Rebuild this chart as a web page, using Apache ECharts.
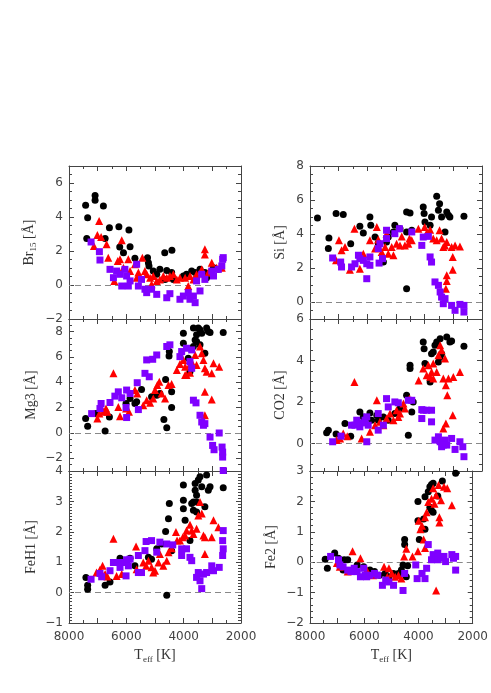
<!DOCTYPE html>
<html><head><meta charset="utf-8">
<script src="https://cdn.jsdelivr.net/npm/echarts@6/dist/echarts.min.js"></script>
<style>html,body{margin:0;padding:0;background:#fff}#c{width:491px;height:693px}</style>
</head><body><div id="c"></div>
<script>
// ---------- data ----------
const xTickLabels = [8000, 6000, 4000, 2000];
const panelNames = ['Br15', 'Si', 'Mg3', 'CO2', 'FeH1', 'Fe2'];
const yRanges = [[-2, 7], [-1, 8], [-3, 9], [-1.33, 6], [-1, 4], [-2, 3]];
const yMajorTicks = [[-2,0,2,4,6], [0,2,4,6,8], [-2,0,2,4,6,8], [0,2,4,6], [-1,0,1,2,3,4], [-2,-1,0,1,2,3]];
const yMinorStep = [0.5, 0.5, 0.5, 0.5, 0.1, 0.2];

const br15Black = [[7420,4.69],[7350,3.96],[7380,2.73],[7090,4.98],[7090,5.27],[6800,4.65],[6740,2.73],[6590,3.37],[6260,3.43],[6230,2.24],[6100,1.9],[5910,3.24],[5870,2.25],[5700,1.57],[5260,1.61],[5230,1.31],[5210,1.12],[5060,0.82],[4940,0.63],[4830,0.92],[4590,0.86],[4650,0.33],[4420,0.73],[4360,0.33],[4660,1.9],[4410,2.04],[4010,0.53],[3900,0.63],[3720,0.82],[3600,0.73],[3430,0.92],[3260,0.73],[3200,0.43],[2960,1.02],[2790,0.92]];
const br15Red = [[6950,3.76],[7010,2.94],[6880,2.82],[7130,2.29],[6690,2.39],[6630,1.61],[6160,2.63],[6300,1.41],[6220,1.51],[5930,1.51],[5700,1.22],[5440,1.61],[5580,0.73],[6420,0.24],[5350,0.82],[5290,0.63],[5170,0.43],[5060,0.53],[4940,0.24],[4830,0.33],[4710,0.53],[4590,0.43],[4480,0.53],[4360,0.63],[4240,0.33],[4130,0.43],[3950,0.43],[3840,-0.06],[3780,0.53],[3660,0.33],[3550,0.63],[3370,0.92],[3260,2.1],[3260,1.8],[3140,0.73],[3020,1.31],[2850,1.02],[2670,1.02],[5120,0.04],[5640,0.43],[6100,1.02],[5870,0.82]];
const br15Purple = [[7230,2.53],[6940,1.96],[6920,1.47],[6570,0.92],[6450,0.43],[6340,0.82],[6220,0.63],[6160,-0.06],[6050,0.92],[5990,0.53],[5930,-0.06],[5870,0.24],[5640,1.22],[5580,-0.06],[5470,0.33],[5350,-0.25],[5290,-0.45],[5120,-0.25],[4940,-0.55],[4590,-0.75],[4480,-0.51],[4130,-0.84],[4010,-0.65],[3840,-0.45],[3780,-0.84],[3600,-1.04],[3660,-0.65],[3550,0.24],[3430,-0.35],[3370,0.63],[3260,0.33],[3020,0.82],[2960,0.53],[2790,0.92],[2670,1.12],[2640,1.51],[2620,1.61]];

const siBlack = [[7740,4.94],[7340,3.76],[7360,3.14],[7090,5.2],[6840,5.14],[6580,3.43],[6260,4.45],[6140,4.06],[5910,5.0],[5880,4.51],[5730,3.82],[5620,3.47],[5270,3.82],[5090,4.12],[5040,4.51],[4860,4.31],[4630,5.29],[4510,5.24],[4630,4.12],[4450,4.22],[4630,0.78],[4050,5.59],[4020,5.2],[3990,4.71],[3760,5.0],[3580,6.22],[3520,5.39],[3480,5.78],[3410,5.0],[3230,5.29],[3170,5.1],[3120,5.0],[2630,5.04],[3290,4.12],[5440,2.35],[5330,3.53],[3810,4.51]];
const siRed = [[6990,3.63],[6900,3.04],[6780,3.24],[7090,2.45],[6610,1.9],[6450,4.31],[6260,1.96],[6140,2.84],[5910,3.63],[5730,3.14],[5670,4.41],[5620,3.67],[5500,2.94],[5380,3.24],[5270,2.84],[5150,3.24],[5090,2.75],[4980,3.43],[4860,3.33],[4800,3.86],[4690,3.33],[4570,3.43],[4450,3.63],[4530,3.73],[4220,4.31],[4000,4.41],[3930,4.06],[3810,4.25],[3700,3.73],[3580,3.63],[3480,4.22],[3410,3.73],[3350,3.24],[3290,3.33],[3230,3.53],[3060,3.24],[2940,3.33],[2770,3.27],[3020,2.65],[3020,1.9],[3230,1.57],[3230,1.24],[3260,0.78],[5330,4.02]];
const siPurple = [[7210,2.59],[6930,2.35],[6900,2.06],[6550,2.06],[6430,2.25],[6310,2.75],[6260,2.55],[6140,2.45],[6020,2.25],[5910,2.65],[5910,2.16],[6020,1.37],[5590,2.29],[5470,2.55],[5620,3.14],[5560,3.43],[5330,3.73],[5330,4.22],[5040,4.02],[4880,4.31],[4450,4.12],[4100,3.33],[4050,3.82],[3870,3.86],[3810,2.65],[3760,2.35],[3640,1.18],[3520,0.98],[3460,0.59],[3410,0.29],[3350,-0.1],[3290,0.2],[3060,-0.2],[2940,-0.49],[2770,-0.14],[2630,-0.2],[2630,-0.59]];

const mg3Black = [[7420,1.14],[7350,0.53],[6740,0.16],[6590,1.27],[7060,1.53],[5870,2.72],[6010,2.33],[5700,2.33],[5640,2.46],[5470,3.44],[5120,2.86],[4940,2.99],[4830,3.12],[4630,4.23],[4690,1.06],[4590,0.42],[4420,2.01],[4420,3.25],[4510,6.08],[4500,6.43],[4010,7.88],[4010,7.09],[3840,5.9],[3780,4.84],[3660,6.83],[3600,7.35],[3550,7.75],[3490,8.28],[3430,8.15],[3370,7.88],[3550,7.22],[3260,6.3],[3200,8.28],[3140,8.02],[3080,7.94],[2620,7.94],[3430,6.96],[3660,8.28]];
const mg3Red = [[6450,4.71],[7010,1.14],[6940,1.53],[6800,1.67],[6710,1.93],[6660,1.67],[6280,2.06],[6220,1.32],[6010,1.93],[5910,1.67],[5700,3.39],[5620,3.12],[5410,2.2],[5290,2.59],[5170,2.38],[5060,2.72],[5000,3.39],[4920,3.78],[4850,4.05],[4770,3.12],[4650,2.72],[4530,3.78],[4420,3.86],[4240,4.97],[4130,5.45],[4010,5.77],[3950,5.24],[3900,4.58],[3780,4.76],[3720,5.61],[3600,6.16],[3430,6.83],[3370,6.3],[3310,5.77],[3260,5.11],[3200,4.84],[3020,4.71],[2960,5.5],[2760,5.24],[3260,3.25],[3020,2.65],[3260,1.4],[3950,4.58],[3780,5.4],[3550,5.37]];
const mg3Purple = [[7210,1.53],[6920,1.93],[6880,2.33],[6570,2.41],[6400,2.91],[6280,3.25],[6160,2.78],[5990,3.39],[5870,3.12],[6010,2.01],[5990,1.22],[5580,1.85],[5620,3.97],[5350,4.71],[5200,4.44],[5290,5.77],[5080,5.82],[4940,6.16],[4590,6.83],[4480,6.96],[4130,6.03],[4070,6.43],[3900,6.69],[3720,6.56],[3780,5.64],[3720,5.11],[3660,2.59],[3570,2.38],[3430,1.4],[3370,0.87],[3310,0.61],[3260,0.74],[3080,-0.32],[2990,-0.98],[2940,-1.32],[2760,0.0],[2660,-1.11],[2640,-1.51],[2640,-1.9],[2620,-2.96]];

const co2Black = [[7420,0.51],[7360,0.64],[7090,0.45],[6780,0.96],[6580,0.35],[6260,1.52],[6140,1.28],[5910,1.47],[5850,1.12],[5620,1.12],[5440,1.28],[5270,1.12],[5040,1.44],[4860,1.68],[4630,2.32],[4570,0.4],[4450,1.52],[4400,2.0],[4510,3.77],[4510,3.61],[4050,4.89],[4020,4.57],[3990,3.85],[3760,4.33],[3700,4.41],[3640,4.73],[3580,4.89],[3460,5.05],[3520,3.93],[3460,4.17],[3410,4.33],[3230,5.13],[3120,4.89],[3060,4.94],[2630,4.68],[3810,2.96],[5670,1.36]];
const co2Red = [[6450,2.96],[7070,0.16],[6950,0.24],[6840,0.48],[6700,0.35],[6200,0.24],[5910,0.56],[5670,2.08],[5730,0.88],[5560,1.04],[5440,0.88],[5330,1.2],[5210,1.44],[5090,1.12],[4980,1.6],[4920,1.28],[4860,1.44],[4740,1.92],[4690,1.68],[4530,2.16],[4210,3.04],[4050,3.61],[3930,3.29],[3870,3.77],[3810,3.21],[3760,3.45],[3700,3.13],[3580,3.45],[3520,4.25],[3460,4.73],[3410,4.49],[3350,3.13],[3290,4.09],[3260,2.8],[3210,2.32],[3170,3.13],[3000,3.2],[2770,3.45],[3020,1.36],[3260,0.96],[3350,0.72],[3700,3.85]];
const co2Purple = [[7210,0.08],[6920,0.35],[6550,0.88],[6430,0.88],[6370,1.12],[6260,0.8],[6200,0.99],[6080,1.12],[6020,1.28],[5970,0.88],[6020,0.08],[5620,1.44],[5620,0.64],[5440,0.88],[5330,2.16],[5270,1.76],[5040,2.0],[4920,1.96],[4570,2.08],[4450,2.08],[4100,1.63],[4050,1.6],[3930,1.6],[3760,1.6],[4100,1.2],[3760,1.04],[3640,0.16],[3520,0.32],[3460,0.08],[3410,-0.16],[3290,0.16],[3230,-0.08],[3060,0.24],[2940,-0.29],[2770,0.08],[2670,-0.16],[2630,-0.64],[3350,-0.08]];

const feh1Black = [[7410,0.5],[7350,0.24],[7350,0.11],[6740,0.24],[6570,0.35],[6220,1.13],[5870,1.13],[5700,0.88],[5230,1.16],[5120,1.1],[4940,1.44],[4770,1.6],[4630,2.01],[4530,2.43],[4500,2.93],[4590,-0.09],[4420,1.38],[4010,3.54],[4010,3.04],[4010,2.76],[3950,2.38],[3720,2.93],[3660,2.98],[3600,3.37],[3600,3.59],[3550,3.2],[3490,3.7],[3430,3.81],[3370,3.48],[3660,2.71],[3550,2.65],[3200,3.87],[3080,3.48],[3140,3.37],[3260,2.82],[2620,3.45],[3780,1.71],[3550,2.98]];
const feh1Red = [[6450,1.77],[7040,0.66],[6920,0.75],[6830,0.88],[6740,0.61],[6660,0.53],[6340,0.55],[6160,0.61],[5660,1.52],[5640,0.77],[5410,0.99],[5310,0.88],[5230,1.05],[5120,0.83],[5000,0.72],[4880,0.99],[4830,1.27],[4710,0.88],[4590,1.05],[4530,1.33],[4420,1.46],[4270,1.99],[4130,1.71],[4030,1.82],[3950,1.88],[3900,2.04],[3780,2.23],[3720,2.04],[3660,1.93],[3550,2.1],[3490,2.54],[3430,2.98],[3370,2.6],[3310,1.88],[3260,1.82],[3260,1.27],[2960,2.38],[3020,1.82],[2790,2.15],[4230,1.71],[5060,0.66]];
const feh1Purple = [[7230,0.44],[6920,0.63],[6860,0.52],[6570,0.72],[6450,0.99],[6280,0.99],[6220,0.83],[6100,0.99],[5990,1.08],[5930,0.88],[6010,0.55],[5870,1.1],[5580,1.22],[5580,0.66],[5470,0.66],[5310,1.68],[5120,1.71],[5350,1.38],[4940,1.33],[4830,1.66],[4590,1.6],[4380,1.57],[4070,1.44],[3900,1.44],[3780,1.16],[3720,1.05],[3550,0.5],[3490,0.66],[3430,0.39],[3370,0.13],[3310,0.61],[3200,0.66],[3020,0.88],[2960,0.72],[2760,0.83],[2620,2.04],[2640,1.71],[2620,1.44],[2640,1.22],[4070,1.22]];

const fe2Black = [[7440,0.1],[7360,-0.2],[7090,0.3],[6950,0.13],[6740,0.08],[6610,0.08],[6780,-0.26],[6260,-0.09],[6020,-0.15],[5790,-0.26],[5620,-0.31],[5440,-0.43],[5230,-0.37],[5090,-0.48],[4920,-0.37],[4800,-0.43],[4630,-0.26],[4570,-0.09],[4510,0.75],[4510,0.58],[4450,-0.48],[4400,-0.12],[4020,1.36],[4020,2.0],[3970,0.75],[3810,1.42],[3760,2.15],[3760,1.08],[3640,2.32],[3580,2.48],[3520,2.56],[3460,2.6],[3580,1.81],[3520,1.7],[3460,1.64],[3290,2.18],[3120,2.67],[2630,2.93],[4740,-0.37]];
const fe2Red = [[6430,0.36],[7010,-0.03],[6900,-0.15],[6610,-0.31],[6140,0.13],[5910,-0.26],[5670,-0.43],[5270,-0.15],[5090,-0.2],[5150,-0.48],[4860,-0.48],[4740,-0.43],[4630,-0.54],[4530,0.19],[4450,0.44],[4220,0.19],[4020,0.36],[3990,1.36],[3930,1.08],[3870,1.2],[3810,0.75],[3760,1.48],[3700,1.64],[3640,1.98],[3520,2.09],[3460,2.43],[3410,1.92],[3350,2.2],[3260,2.54],[3230,1.31],[3230,1.48],[3170,2.04],[3060,2.48],[2940,2.43],[2770,1.87],[3350,-0.93],[3760,0.47],[4980,-0.37]];
const fe2Purple = [[7240,0.19],[6950,0.08],[6900,-0.09],[6780,-0.15],[6610,-0.26],[6490,-0.31],[6370,-0.2],[6260,-0.31],[6140,-0.48],[6020,-0.2],[5970,-0.43],[5910,-0.48],[5790,-0.43],[5620,-0.37],[5500,-0.43],[5330,-0.76],[5210,-0.59],[5090,-0.65],[4920,-0.76],[4570,-0.93],[4510,-0.37],[4100,-0.09],[4050,-0.54],[3870,-0.37],[3760,-0.54],[3700,-0.2],[3640,0.58],[3520,0.08],[3460,0.25],[3350,0.19],[3290,0.08],[3170,0.13],[3060,0.19],[3000,0.02],[2770,0.25],[2710,0.13],[2630,0.19],[2630,-0.26],[3290,0.3]];

const panelData = [
  [br15Black, br15Red, br15Purple],
  [siBlack, siRed, siPurple],
  [mg3Black, mg3Red, mg3Purple],
  [co2Black, co2Red, co2Purple],
  [feh1Black, feh1Red, feh1Purple],
  [fe2Black, fe2Red, fe2Purple]
];

// ---------- layout / style ----------
const colLeft = [69, 310];
const rowTop = [166, 319, 471];
const rowHeight = [153, 152, 152];
const plotWidth = 172;
const nameGaps = [31, 23, 31, 23, 31, 32];
const seriesStyle = [
  { symbol: 'circle', color: '#000000', size: 7 },
  { symbol: 'triangle', color: '#ff0000', size: 8 },
  { symbol: 'rect', color: '#7f00ff', size: 7 }
];
const axisColor = '#444';
const labelColor = '#444';
const serif = '"Liberation Serif","DejaVu Serif",serif';
const sans = '"DejaVu Sans","Liberation Sans",sans-serif';

function fmt(v) { return v < 0 ? '\u2212' + Math.abs(v) : String(v); }
function minorValues(range, step, majors) {
  const out = [];
  const n0 = Math.ceil(range[0] / step - 1e-9), n1 = Math.floor(range[1] / step + 1e-9);
  for (let n = n0; n <= n1; n++) {
    const v = Math.round(n * step * 1e6) / 1e6;
    if (!majors.some(m => Math.abs(m - v) < 1e-6)) out.push(v);
  }
  return out;
}
function yName(name) {
  if (name === 'Br15') return '{r|Br}{s|15}{r| [\u00C5]}';
  return '{r|' + name + ' [\u00C5]}';
}

const grid = [], xAxis = [], yAxis = [], series = [];
panelNames.forEach((name, i) => {
  const col = i % 2, row = Math.floor(i / 2);
  grid.push({ left: colLeft[col], top: rowTop[row], width: plotWidth, height: rowHeight[row] });
  const bottomRow = row === 2;
  const xBase = {
    gridIndex: i, type: 'value', min: 2000, max: 8000, interval: 1000, inverse: true,
    splitLine: { show: false },
    axisLine: { show: true, onZero: false, lineStyle: { color: axisColor, width: 1 } },
    axisTick: { show: true, inside: true, length: 5, lineStyle: { color: axisColor } },
    minorTick: { show: true, splitNumber: 2, length: 3, lineStyle: { color: axisColor } }
  };
  const xi = xAxis.length;
  xAxis.push(Object.assign({}, xBase, {
    position: 'bottom',
    axisLabel: {
      show: bottomRow, margin: 8, color: labelColor, fontSize: 12, fontFamily: sans,
      showMinLabel: true, showMaxLabel: true,
      formatter: v => (xTickLabels.indexOf(v) >= 0 ? String(v) : '')
    },
    name: bottomRow ? '{r|T}{s|eff}{r| [K]}' : '',
    nameLocation: 'middle', nameGap: 24,
    nameTextStyle: {
      rich: {
        r: { fontFamily: serif, fontSize: 14, color: '#333' },
        s: { fontFamily: serif, fontSize: 9, color: '#333', padding: [8, 0, 0, 0] }
      }
    }
  }));
  xAxis.push(Object.assign({}, xBase, { position: 'top', axisLabel: { show: false } }));

  const range = yRanges[i], majors = yMajorTicks[i];
  const minors = minorValues(range, yMinorStep[i], majors);
  const yBase = {
    gridIndex: i, type: 'value', min: range[0], max: range[1],
    splitLine: { show: false },
    axisLine: { show: true, onZero: false, lineStyle: { color: axisColor, width: 1 } }
  };
  const yi = yAxis.length;
  yAxis.push(Object.assign({}, yBase, {
    position: 'left',
    axisTick: { show: true, inside: true, length: 5, customValues: majors, lineStyle: { color: axisColor } },
    axisLabel: { show: true, customValues: majors, formatter: fmt, margin: 6, color: labelColor, fontSize: 12, fontFamily: sans, showMinLabel: true, showMaxLabel: true },
    name: yName(name), nameLocation: 'middle', nameGap: nameGaps[i], nameRotate: 90,
    nameTextStyle: {
      rich: {
        r: { fontFamily: serif, fontSize: 14, color: '#333' },
        s: { fontFamily: serif, fontSize: 9, color: '#333', padding: [8, 0, 0, 0] }
      }
    }
  }));
  yAxis.push(Object.assign({}, yBase, {
    position: 'left', axisLine: { show: false },
    axisTick: { show: true, inside: true, length: 3, customValues: minors, lineStyle: { color: axisColor } },
    axisLabel: { show: false }
  }));
  yAxis.push(Object.assign({}, yBase, {
    position: 'right',
    axisTick: { show: true, inside: true, length: 5, customValues: majors, lineStyle: { color: axisColor } },
    axisLabel: { show: false }
  }));
  yAxis.push(Object.assign({}, yBase, {
    position: 'right', axisLine: { show: false },
    axisTick: { show: true, inside: true, length: 3, customValues: minors, lineStyle: { color: axisColor } },
    axisLabel: { show: false }
  }));

  panelData[i].forEach((d, k) => {
    const st = seriesStyle[k];
    const s = {
      type: 'scatter', xAxisIndex: xi, yAxisIndex: yi, data: d,
      symbol: st.symbol, symbolSize: st.size,
      itemStyle: { color: st.color, opacity: 1 },
      silent: true, z: 3 + k
    };
    if (k === 0) {
      s.markLine = {
        silent: true, symbol: ['none', 'none'], label: { show: false },
        lineStyle: { type: [6, 4], color: '#888', width: 1 },
        data: [{ yAxis: 0 }], z: 1
      };
    }
    series.push(s);
  });
});

const chart = echarts.init(document.getElementById('c'), null, { renderer: 'canvas' });
chart.setOption({ animation: false, backgroundColor: '#fff', grid, xAxis, yAxis, series });
</script>
</body></html>
